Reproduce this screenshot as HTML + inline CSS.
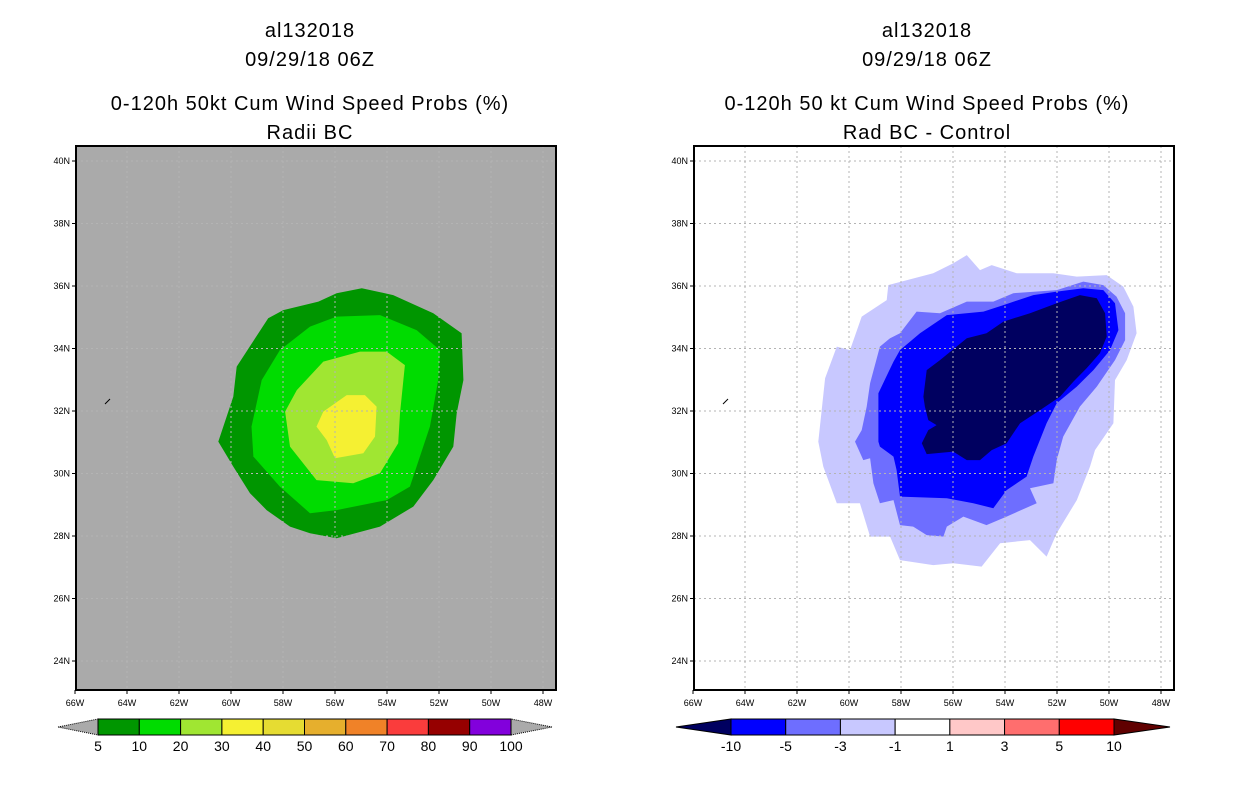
<!DOCTYPE html>
<html><head><meta charset="utf-8"><style>
html,body{margin:0;padding:0;background:#fff;}
svg{display:block;font-family:"Liberation Sans",sans-serif;}
</style></head><body>
<svg id="c" width="1236" height="800" viewBox="0 0 1236 800" xmlns="http://www.w3.org/2000/svg">
<g font-size="20" text-anchor="middle" fill="#000" letter-spacing="1">
<text x="310" y="37">al132018</text><text x="310" y="66">09/29/18 06Z</text>
<text x="310" y="110">0-120h 50kt Cum Wind Speed Probs (%)</text><text x="310" y="139">Radii BC</text></g>
<g font-size="20" text-anchor="middle" fill="#000" letter-spacing="1">
<text x="927" y="37">al132018</text><text x="927" y="66">09/29/18 06Z</text>
<text x="927" y="110">0-120h 50 kt Cum Wind Speed Probs (%)</text><text x="927" y="139">Rad BC - Control</text></g>
</svg>
<script>
const lonTicks=[-66,-64,-62,-60,-58,-56,-54,-52,-50,-48];
const latTicks=[24,26,28,30,32,34,36,38,40];
// Left: probability contours (lon, lat)
const p5=[[-60.49,31.02],[-59.91,32.46],[-59.78,33.42],[-58.57,34.97],[-57.99,35.23],[-56.64,35.5],[-55.94,35.77],[-54.97,35.93],[-53.76,35.71],[-52.22,35.13],[-51.13,34.49],[-51.06,32.99],[-51.32,31.93],[-51.45,30.86],[-52.22,29.79],[-52.99,28.94],[-54.27,28.3],[-55.94,27.93],[-56.96,28.09],[-57.73,28.3],[-58.63,28.83],[-59.27,29.37],[-59.91,30.22]];
const p10=[[-59.21,31.5],[-58.82,32.99],[-58.12,33.95],[-56.96,34.7],[-55.94,35.02],[-54.27,35.07],[-52.86,34.59],[-51.96,33.95],[-52.03,32.99],[-52.35,31.5],[-53.12,29.58],[-54.01,29.15],[-55.94,28.83],[-56.96,28.73],[-58.12,29.58],[-59.14,30.54]];
const p20=[[-57.92,31.98],[-57.47,32.67],[-56.45,33.58],[-55.04,33.9],[-54.01,33.9],[-53.31,33.47],[-53.5,31.93],[-53.57,30.97],[-54.27,30.01],[-55.3,29.69],[-56.71,29.79],[-57.73,30.86]];
const p30=[[-56.71,31.5],[-56.45,31.98],[-55.55,32.51],[-54.85,32.51],[-54.4,32.14],[-54.46,31.18],[-54.91,30.65],[-56.0,30.49],[-56.32,31.07]];
// Right: difference contours
const d1=[[-61.18,31.02],[-60.92,33.05],[-60.47,34.06],[-59.96,33.95],[-59.51,35.02],[-58.55,35.55],[-58.49,36.03],[-56.76,36.41],[-55.99,36.73],[-55.47,36.99],[-54.96,36.51],[-54.51,36.67],[-53.55,36.41],[-52.14,36.41],[-51.24,36.3],[-50.09,36.35],[-49.45,35.98],[-49.06,35.34],[-48.94,34.49],[-49.32,33.63],[-49.77,32.99],[-49.83,31.61],[-50.54,30.75],[-50.73,30.22],[-51.24,29.15],[-52.01,28.09],[-52.4,27.34],[-53.04,27.87],[-54.19,27.77],[-54.9,27.02],[-55.99,27.13],[-56.76,27.07],[-58.04,27.23],[-58.42,27.98],[-59.19,27.98],[-59.58,29.05],[-60.47,29.05],[-60.99,30.22]];
const d3=[[-59.77,31.02],[-59.51,31.39],[-59.32,32.14],[-59.19,32.89],[-58.81,34.06],[-58.42,34.33],[-58.04,34.49],[-57.4,35.18],[-56.5,35.13],[-55.47,35.5],[-54.45,35.5],[-53.68,35.77],[-52.01,35.87],[-50.99,36.14],[-50.22,36.03],[-49.71,35.66],[-49.38,35.13],[-49.38,34.27],[-49.77,33.63],[-50.47,32.78],[-51.12,32.14],[-51.76,31.18],[-52.01,30.43],[-52.14,29.69],[-53.04,29.53],[-52.78,29.05],[-53.94,28.62],[-54.71,28.35],[-55.6,28.62],[-56.24,28.3],[-56.37,27.98],[-57.01,28.03],[-57.53,28.3],[-58.04,28.35],[-58.29,29.15],[-58.81,29.05],[-59.06,29.69],[-59.19,30.49],[-59.45,30.43]];
const d5=[[-58.87,31.02],[-58.87,32.57],[-58.29,33.58],[-58.04,33.95],[-57.27,34.49],[-56.24,35.07],[-54.83,35.18],[-54.06,35.39],[-52.91,35.71],[-52.01,35.82],[-50.99,35.93],[-50.22,35.87],[-49.77,35.45],[-49.64,34.59],[-49.96,33.95],[-50.6,33.31],[-51.24,32.78],[-52.01,32.25],[-52.4,31.61],[-52.91,30.54],[-53.17,29.9],[-53.94,29.47],[-54.45,28.89],[-55.22,29.05],[-56.24,29.21],[-58.04,29.26],[-58.17,30.11],[-58.29,30.54],[-58.81,30.86]];
const d10=[[-57.14,32.46],[-57.01,33.31],[-56.5,33.63],[-55.47,34.33],[-54.71,34.49],[-54.06,34.86],[-53.04,35.13],[-52.01,35.45],[-51.12,35.71],[-50.47,35.61],[-50.15,35.13],[-50.09,34.38],[-50.35,33.85],[-50.86,33.37],[-51.37,32.94],[-51.88,32.46],[-52.65,32.03],[-53.42,31.61],[-53.94,30.97],[-54.51,30.75],[-54.96,30.43],[-55.47,30.43],[-55.99,30.7],[-57.01,30.62],[-57.2,30.97],[-56.95,31.39],[-56.63,31.55],[-56.95,31.71],[-57.08,32.14]];
const leftLevels=["5","10","20","30","40","50","60","70","80","90","100"];
const leftColors=["#009600","#00dc00","#a0e632","#f5f032","#e6dc32","#e6af2d","#f08228","#fa3c3c","#960000","#8200dc"];
const rightLevels=["-10","-5","-3","-1","1","3","5","10"];
const rightColors=["#0000ff","#6e6eff","#c8c8ff","#ffffff","#ffc8c8","#ff6e6e","#ff0000"];

const NS="http://www.w3.org/2000/svg";
const svg=document.getElementById('c');
function mk(tag,attrs,parent){const e=document.createElementNS(NS,tag);for(const k in attrs)e.setAttribute(k,attrs[k]);(parent||svg).appendChild(e);return e;}
const BOX_TOP=146,BOX_BOT=690,BOX_W=480;
function panel(x0,bg,polys,cols,name){
  const xs=lon=>x0-1+(lon+66)*26, ys=lat=>161+(40-lat)*31.25;
  const g=mk('g',{});
  
  
  const clipId='clip'+name;
  const cp=mk('clipPath',{id:clipId},g);mk('rect',{x:x0,y:BOX_TOP,width:BOX_W,height:BOX_BOT-BOX_TOP},cp);
  const bgR=mk('rect',{x:x0,y:BOX_TOP,width:BOX_W,height:BOX_BOT-BOX_TOP,fill:bg},g);
  
  
  const fg=mk('g',{'clip-path':'url(#'+clipId+')'},g);
  polys.forEach((p,i)=>{
    const pe=mk('polygon',{points:p.map(q=>xs(q[0]).toFixed(1)+','+ys(q[1]).toFixed(1)).join(' '),fill:cols[i]},fg);
    
    
  });
  lonTicks.forEach(l=>{const x=xs(l);if(x>x0&&x<x0+BOX_W){const ln=mk('line',{x1:x,x2:x,y1:BOX_TOP,y2:BOX_BOT,stroke:'#b4b4b4','stroke-dasharray':'2,3','stroke-width':1},fg);
    
    }});
  latTicks.forEach(l=>{const y=ys(l);const ln=mk('line',{x1:x0,x2:x0+BOX_W,y1:y,y2:y,stroke:'#b4b4b4','stroke-dasharray':'2,3','stroke-width':1},fg);
    
    });
  const cl=mk('line',{x1:x0+29,y1:404,x2:x0+34,y2:399,stroke:'#000','stroke-width':1},g);
  
  
  const fr=mk('rect',{x:x0,y:BOX_TOP,width:BOX_W,height:BOX_BOT-BOX_TOP,fill:'none',stroke:'#000','stroke-width':2},g);
  
  
  lonTicks.forEach(l=>{const x=xs(l);
    mk('line',{x1:x,x2:x,y1:BOX_BOT,y2:BOX_BOT+4,stroke:'#000'},g);
    const t=mk('text',{x:x,y:BOX_BOT+16,'font-size':9,'text-anchor':'middle'},g);t.textContent=(-l)+'W';
    
    });
  latTicks.forEach(l=>{const y=ys(l);
    mk('line',{x1:x0-4,x2:x0,y1:y,y2:y,stroke:'#000'},g);
    const t=mk('text',{x:x0-6,y:y+3,'font-size':9,'text-anchor':'end'},g);t.textContent=l+'N';
    
    });
}
panel(76,'#aaaaaa',[p5,p10,p20,p30],leftColors,'left-map');
panel(694,'#ffffff',[d1,d3,d5,d10],['#c8c8ff','#6e6eff','#0000ff','#000060'],'right-map');

function colorbar(x0,x1,tl,tr,cols,labels,lcol,rcol,name){
  const g=mk('g',{});
  
  
  const y0=719,y1=735,ym=727,n=cols.length,w=(x1-x0)/n;
  const a=mk('polygon',{points:`${tl},${ym} ${x0},${y0} ${x0},${y1}`,fill:lcol,stroke:'#000','stroke-width':1,'stroke-dasharray':lcol=='#aaaaaa'?'1,1':''},g);
  
  
  const b=mk('polygon',{points:`${tr},${ym} ${x1},${y0} ${x1},${y1}`,fill:rcol,stroke:'#000','stroke-width':1,'stroke-dasharray':rcol=='#aaaaaa'?'1,1':''},g);
  
  
  cols.forEach((c,i)=>{const r=mk('rect',{x:x0+i*w,y:y0,width:w,height:y1-y0,fill:c,stroke:'#000','stroke-width':1},g);
    
    });
  labels.forEach((s,i)=>{const t=mk('text',{x:x0+i*w,y:751,'font-size':14,'text-anchor':'middle'},g);t.textContent=s;
    
    });
}
colorbar(98,511,58,552,leftColors,leftLevels,'#aaaaaa','#aaaaaa','left-colorbar');
colorbar(731,1114,676,1170,rightColors,rightLevels,'#000060','#600000','right-colorbar');
</script>
</body></html>
